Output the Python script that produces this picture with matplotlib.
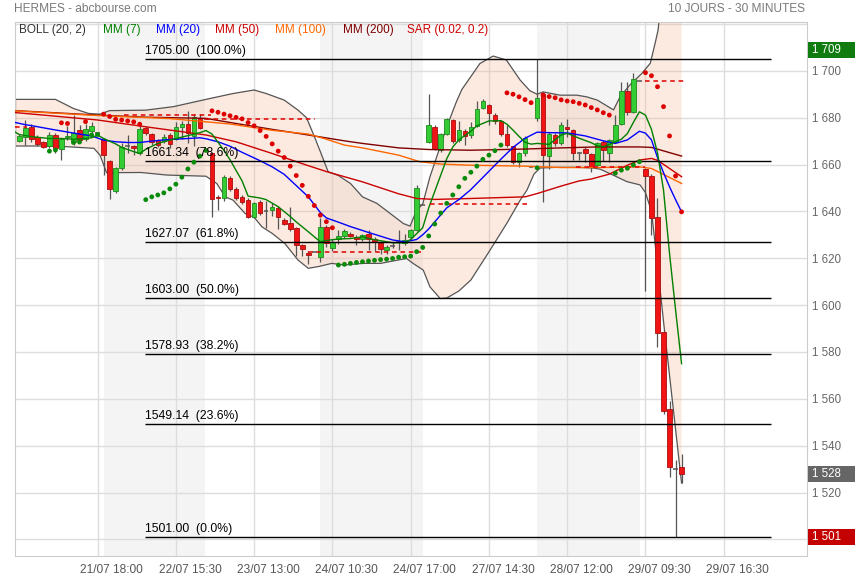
import numpy as np
import matplotlib
matplotlib.use("Agg")
import matplotlib.pyplot as plt
from matplotlib import font_manager as fm
from matplotlib.patches import Rectangle
import matplotlib.transforms as mtrans

# ---------------- data (30-minute candles, index 0 = 21/07 11:30) ----------------
opens = [1670.1, 1671.9, 1676.0, 1671.6, 1669.4, 1668.0, 1672.8, 1666.6, 1671.8, 1669.4,
         1674.7, 1670.7, 1674.4, 1673.3, 1670.7, 1661.5, 1648.7, 1658.3, 1667.9, 1668.0,
         1664.7, 1675.4, 1673.0, 1670.4, 1670.0, 1672.6, 1671.1, 1676.0, 1677.1, 1672.3,
         1680.0, 1679.3, 1664.7, 1646.2, 1645.5, 1654.1, 1649.4, 1646.2, 1644.8, 1637.7,
         1644.1, 1640.3, 1640.6, 1641.3, 1636.3, 1634.9, 1632.7, 1625.6, 1622.4, 1622.8,
         1620.6, 1633.4, 1624.4, 1628.4, 1629.4, 1630.3, 1629.1, 1628.4, 1630.3, 1628.1,
         1626.7, 1623.7, 1625.3, 1627.0, 1626.6, 1628.9, 1632.0, 1642.9, 1669.7, 1676.1,
         1666.4, 1673.2, 1678.9, 1670.4, 1674.4, 1672.5, 1676.4, 1684.3, 1685.3, 1681.3,
         1678.5, 1673.2, 1667.8, 1661.1, 1664.7, 1659.0, 1679.7, 1690.3, 1663.6, 1672.5,
         1669.0, 1676.1, 1674.7, 1664.7, 1666.6, 1664.4, 1659.7, 1669.7, 1664.7, 1669.7,
         1677.5, 1691.3, 1682.2, 1695.6, 1658.1, 1655.2, 1637.5, 1588.4, 1555.5, 1530.0,
         1530.8]
highs = [1673.0, 1679.0, 1677.2, 1672.5, 1670.0, 1674.0, 1673.5, 1671.5, 1676.5, 1681.0,
         1677.0, 1677.5, 1678.0, 1673.3, 1671.5, 1662.0, 1659.0, 1669.0, 1672.5, 1668.5,
         1677.0, 1676.5, 1673.5, 1671.0, 1673.0, 1673.5, 1678.0, 1678.5, 1683.0, 1681.5,
         1681.5, 1679.3, 1665.0, 1647.0, 1655.5, 1655.0, 1650.5, 1647.0, 1645.5, 1644.0,
         1645.0, 1644.5, 1643.5, 1642.5, 1637.0, 1642.0, 1633.5, 1626.0, 1623.0, 1622.8,
         1637.0, 1634.0, 1628.0, 1632.0, 1632.5, 1631.0, 1630.0, 1630.5, 1632.0, 1629.0,
         1627.5, 1625.5, 1627.0, 1632.0, 1630.5, 1632.5, 1651.2, 1642.9, 1690.3, 1677.0,
         1673.5, 1679.8, 1679.5, 1678.5, 1675.0, 1678.0, 1687.0, 1688.0, 1686.0, 1682.0,
         1679.0, 1677.0, 1668.0, 1665.5, 1672.0, 1659.0, 1705.0, 1690.8, 1674.0, 1673.5,
         1678.0, 1679.5, 1675.0, 1665.5, 1667.5, 1665.0, 1669.5, 1670.5, 1671.0, 1681.0,
         1695.3, 1695.3, 1699.1, 1695.6, 1658.5, 1656.0, 1645.6, 1589.4, 1559.0, 1533.9,
         1536.5]
lows = [1669.5, 1668.3, 1669.5, 1668.0, 1667.0, 1667.2, 1665.0, 1661.9, 1670.5, 1668.5,
        1669.0, 1670.0, 1672.0, 1673.3, 1655.5, 1645.2, 1648.0, 1657.5, 1664.8, 1664.0,
        1664.0, 1672.5, 1668.5, 1667.5, 1669.0, 1667.0, 1670.5, 1671.0, 1669.0, 1668.0,
        1675.0, 1679.3, 1637.4, 1640.5, 1644.5, 1648.5, 1645.0, 1643.0, 1637.0, 1637.0,
        1638.5, 1632.7, 1638.0, 1632.5, 1634.0, 1631.5, 1620.9, 1621.0, 1617.5, 1622.8,
        1618.5, 1625.0, 1623.0, 1626.0, 1628.5, 1629.0, 1625.5, 1627.5, 1623.5, 1623.2,
        1621.7, 1621.7, 1624.5, 1623.5, 1625.5, 1628.0, 1631.5, 1642.9, 1669.0, 1666.0,
        1665.5, 1672.5, 1669.0, 1669.5, 1668.3, 1671.5, 1676.0, 1683.5, 1676.8, 1677.5,
        1672.0, 1667.5, 1660.4, 1659.0, 1663.5, 1659.0, 1678.5, 1644.1, 1658.0, 1668.0,
        1668.5, 1671.8, 1662.0, 1662.0, 1661.0, 1657.0, 1659.0, 1661.5, 1661.0, 1669.0,
        1676.8, 1681.0, 1682.0, 1695.6, 1606.0, 1629.9, 1582.0, 1553.5, 1526.8, 1501.0,
        1524.0]
closes = [1672.1, 1675.4, 1671.1, 1668.7, 1667.6, 1672.6, 1666.9, 1670.7, 1672.2, 1673.3,
          1670.4, 1675.0, 1676.4, 1673.3, 1664.0, 1649.5, 1658.6, 1667.3, 1667.9, 1666.9,
          1675.1, 1673.3, 1669.4, 1668.3, 1671.9, 1668.6, 1676.0, 1677.4, 1673.3, 1680.1,
          1675.4, 1679.3, 1645.3, 1645.7, 1654.5, 1649.4, 1645.8, 1644.1, 1637.7, 1643.4,
          1639.4, 1640.3, 1641.7, 1637.7, 1634.6, 1632.3, 1625.6, 1623.8, 1621.4, 1622.8,
          1633.4, 1626.3, 1626.8, 1629.4, 1631.6, 1629.6, 1628.0, 1629.7, 1628.0, 1627.0,
          1623.9, 1624.9, 1625.3, 1627.0, 1627.7, 1632.0, 1650.0, 1642.9, 1676.8, 1666.8,
          1673.2, 1679.4, 1670.1, 1674.9, 1672.1, 1675.8, 1683.9, 1687.0, 1681.8, 1678.5,
          1673.2, 1668.3, 1661.1, 1665.0, 1671.4, 1659.0, 1688.2, 1664.0, 1673.2, 1669.0,
          1676.8, 1675.1, 1664.7, 1664.7, 1664.7, 1659.0, 1669.3, 1666.1, 1670.4, 1676.8,
          1691.3, 1682.2, 1696.4, 1695.6, 1655.2, 1637.3, 1588.0, 1555.0, 1530.8, 1530.0,
          1527.8]

# moving averages (candle index, value)
mm7_x = [-0.8, 0, 2, 5, 7, 9, 10, 12, 13, 14, 16, 17, 19, 20, 21, 23, 25, 27, 30, 31, 32,
         34, 35, 37, 38, 40, 41, 43, 45, 46, 48, 50, 51, 53, 55, 57, 59, 62, 64, 65, 66,
         67, 68, 70, 71, 72, 73, 75, 76, 78, 80, 81, 82, 83, 84, 85, 86, 88, 90, 91, 93,
         95, 96, 97, 98, 100, 101, 102, 103, 104, 105, 106, 107, 108, 109, 110]
mm7_y = [1674.0, 1672.8, 1671.9, 1671.1, 1671.1, 1670.8, 1670.9, 1671.4, 1672.6, 1671.1, 1668.8,
         1667.3, 1665.5, 1664.7, 1666.5, 1669.0, 1670.4, 1671.7, 1673.6, 1674.5, 1673.0,
         1666.0, 1662.0, 1653.0, 1646.5, 1645.7, 1645.0, 1642.0, 1637.8, 1635.5, 1631.3,
         1627.0, 1627.6, 1628.2, 1628.4, 1629.1, 1627.9, 1626.6, 1626.6, 1628.0, 1630.5,
         1633.0, 1641.5, 1655.5, 1662.5, 1667.5, 1670.5, 1674.2, 1676.5, 1678.6, 1678.7,
         1677.2, 1674.7, 1672.0, 1669.5, 1668.7, 1669.0, 1668.6, 1672.6, 1673.3, 1671.2,
         1669.3, 1668.0, 1667.5, 1668.6, 1670.8, 1673.2, 1678.0, 1682.5, 1681.1, 1675.0,
         1665.0, 1649.1, 1622.0, 1598.0, 1575.0]
mm20_x = [-0.8, 1, 2, 5, 7, 10, 12, 14, 16, 18, 20, 22, 25, 28, 30, 31, 33, 35, 37, 40,
          42, 44, 46, 48, 50, 51, 53, 55, 58, 60, 62, 64, 66, 67, 68, 69, 71, 73, 75, 77,
          80, 82, 84, 86, 88, 91, 94, 96, 97, 99, 101, 103, 104, 105, 106, 107, 108, 109, 110]
mm20_y = [1678.0, 1677.0, 1676.6, 1675.2, 1674.3, 1673.0, 1672.2, 1670.4, 1669.7, 1669.4,
          1669.4, 1670.0, 1670.7, 1671.1, 1671.4, 1671.0, 1669.7, 1667.8, 1665.2, 1661.6,
          1659.0, 1655.8, 1651.0, 1646.2, 1639.5, 1637.2, 1635.4, 1633.5, 1631.0, 1629.4,
          1627.8, 1627.0, 1628.0, 1630.0, 1632.5, 1635.5, 1641.5, 1645.0, 1649.3, 1654.5,
          1662.3, 1667.3, 1671.2, 1673.8, 1673.6, 1673.5, 1672.2, 1670.8, 1670.1, 1669.0,
          1670.5, 1674.2, 1673.4, 1670.5, 1663.0, 1656.5, 1650.5, 1645.0, 1639.8]
mm50_x = [-0.8, 13, 21, 25, 31, 36, 42, 48, 51, 54, 57, 63, 66, 69, 75, 84, 86, 90, 93, 95,
          98, 101, 103, 105, 106, 108, 110]
mm50_y = [1682.2, 1679.0, 1676.1, 1674.7, 1672.6, 1669.7, 1664.7, 1659.5, 1657.0, 1654.8,
          1652.6, 1647.5, 1645.5, 1645.1, 1645.5, 1646.2, 1647.6, 1650.8, 1653.0, 1653.8,
          1655.9, 1659.7, 1661.9, 1662.6, 1661.8, 1658.3, 1654.8]
mm100_x = [-0.8, 13, 25, 35, 42, 48, 51, 54, 57, 63, 66.5, 70, 75, 84, 90, 96, 103, 105, 110]
mm100_y = [1682.9, 1680.9, 1679.6, 1677.3, 1674.6, 1673.0, 1670.8, 1668.3, 1667.1, 1664.0,
           1661.2, 1660.2, 1659.7, 1659.3, 1658.7, 1658.7, 1659.0, 1658.3, 1651.9]
mm200_x = [-0.8, 13, 21, 31, 36, 42, 48, 51.6, 54, 57, 63, 68, 75, 84, 90, 96, 103, 105, 110]
mm200_y = [1683.0, 1681.1, 1680.2, 1679.7, 1677.5, 1675.0, 1672.6, 1671.1, 1670.1, 1669.0,
           1667.1, 1666.4, 1666.1, 1666.6, 1667.1, 1667.5, 1667.5, 1667.3, 1663.6]

# Bollinger (20, 2)
bb_up_x = [-0.8, 6, 9, 11.5, 13.4, 15, 21, 25.6, 31, 35.5, 39, 41, 44, 46.3, 47.7, 49, 50,
           51.3, 53, 55, 57, 59.4, 61.6, 63.8, 64.9, 66, 67, 68.2, 69.9, 71, 72.6, 73.5,
           76.5, 78.7, 80.9, 83.2, 84.8, 86, 87, 89.8, 92.6, 94.2, 96, 98.7, 99.8, 101.4,
           103.4, 104.8, 105.6, 106.1, 107, 108, 109, 110]
bb_up = [1687.8, 1687.8, 1683.9, 1681.8, 1681.5, 1683.0, 1683.2, 1684.7, 1687.8, 1690.3,
         1691.8, 1690.3, 1687.5, 1683.2, 1680.0, 1672.0, 1665.5, 1656.9, 1655.3, 1651.9,
         1646.2, 1643.4, 1639.1, 1634.8, 1633.7, 1640.5, 1643.1, 1654.7, 1667.6, 1676.1,
         1686.8, 1692.0, 1703.1, 1706.3, 1704.6, 1696.0, 1691.5, 1690.0, 1691.0, 1689.6,
         1689.6, 1688.9, 1687.5, 1683.3, 1689.0, 1693.9, 1698.9, 1703.2, 1711.7, 1717.4,
         1740.0, 1760.0, 1775.0, 1790.0]
bb_lo_x = [-0.8, 6, 12.4, 13.4, 14.5, 20.2, 24.5, 31, 32.8, 34.2, 35.5, 37.5, 39, 40.3, 42,
           44.1, 46.3, 48, 49.6, 51.9, 54, 57.1, 60, 64.3, 65.4, 67.1, 68.2, 69.9, 71, 73,
           75, 78.2, 81, 83.2, 84.3, 85.5, 86.5, 89.3, 92.6, 95.3, 96.5, 99.2, 100.9, 103.1,
           104, 105, 106, 107, 108, 109, 110]
bb_lo = [1667.9, 1667.9, 1666.9, 1664.0, 1656.5, 1656.6, 1655.5, 1655.0, 1651.9, 1646.2,
         1644.8, 1639.1, 1637.5, 1633.4, 1630.6, 1626.3, 1619.2, 1615.7, 1616.4, 1617.8,
         1617.1, 1617.8, 1617.8, 1619.9, 1617.8, 1614.9, 1607.8, 1602.8, 1603.0, 1606.0,
         1610.7, 1623.5, 1635.0, 1644.8, 1649.0, 1656.0, 1658.5, 1658.8, 1658.8, 1658.5,
         1658.0, 1654.8, 1652.7, 1651.3, 1648.0, 1640.0, 1617.0, 1593.0, 1570.0, 1547.0,
         1524.0]

# Parabolic SAR (0.02, 0.2), candles 5..110
sar_x = list(range(5, 111))
sar_y = [1665.7, 1666.2, 1677.8, 1677.5, 1669.4, 1669.6, 1678.3, 1672.6, 1672.8, 1681.5,
         1680.5, 1679.3, 1679.0, 1678.6, 1678.2, 1677.2, 1645.0, 1646.2, 1647.0, 1647.9,
         1649.6, 1651.6, 1654.6, 1658.1, 1661.0, 1663.6, 1666.0, 1682.9, 1682.3, 1681.5,
         1680.8, 1680.1, 1679.5, 1677.9, 1676.5, 1674.5, 1672.0, 1668.8, 1665.7, 1663.0,
         1659.3, 1655.3, 1651.1, 1646.4, 1642.5, 1638.4, 1635.6, 1633.0, 1617.1, 1617.4,
         1617.8, 1618.2, 1618.5, 1618.8, 1619.1, 1619.4, 1619.6, 1619.9, 1620.4, 1620.6,
         1620.9, 1622.8, 1624.6, 1629.5, 1634.6, 1639.3, 1643.4, 1647.0, 1650.5, 1654.1,
         1656.7, 1659.3, 1662.2, 1664.0, 1665.9, 1668.3, 1690.6, 1690.0, 1688.9, 1687.7,
         1686.4, 1658.6, 1689.7, 1689.0, 1688.5, 1687.6, 1687.1, 1686.8, 1686.1, 1685.4,
         1684.3, 1683.3, 1682.1, 1681.1, 1656.3, 1657.6, 1658.4, 1659.8, 1661.2, 1699.2,
         1697.9, 1693.2, 1684.7, 1672.2, 1655.1, 1639.8]

# previous-close dashed lines: level, start index, end index
prev_close_level = [1675.8, 1681.1, 1679.3, 1622.5, 1643.0, 1658.8, 1695.6]
prev_close_start = [-0.8, 17.4, 30.8, 48.0, 68.2, 92.5, 104.0]
prev_close_end = [1.3, 31.8, 49.1, 66.8, 84.8, 103.9, 110.5]

# Fibonacci retracement
fib_levels = [1705.00, 1661.34, 1627.07, 1603.00, 1578.93, 1549.14, 1501.00]
fib_pct = ['100.0%', '78.6%', '61.8%', '50.0%', '38.2%', '23.6%', '0.0%']
fib_start, fib_end = 20.9, 124.8

# shaded trading days (index ranges)
shade_start = [14, 50, 86]
shade_end = [30.85, 67.0, 103.05]

xtick_idx = [13, 26, 39, 52, 65, 78, 91, 104, 117]
xtick_labels = ['21/07 18:00', '22/07 15:30', '23/07 13:00', '24/07 10:30', '24/07 17:00',
                '27/07 14:30', '28/07 12:00', '29/07 09:30', '29/07 16:30']
yticks = list(range(1520, 1701, 20))
ygrid = list(range(1500, 1721, 20))

tag_values = [1709, 1528, 1501]
tag_colors = ['#107c10', '#666666', '#c40000']

legend_items = ['BOLL (20, 2)', 'MM (7)', 'MM (20)', 'MM (50)', 'MM (100)', 'MM (200)', 'SAR (0.02, 0.2)']
legend_colors = ['#333333', '#008000', '#0000ff', '#cc0000', '#ff6600', '#800000', '#cc0000']
legend_px = [19, 102.7, 155.7, 215, 275, 342.7, 407]

# ---------------- fonts ----------------
names = {f.name for f in fm.fontManager.ttflist}
BASE = 'Liberation Sans' if 'Liberation Sans' in names else 'DejaVu Sans'
HAS_NARROW = 'Liberation Sans Narrow' in names
NARROW = 'Liberation Sans Narrow' if HAS_NARROW else BASE
plt.rcParams['font.family'] = [BASE, 'DejaVu Sans']

# ---------------- figure ----------------
W, H = 855, 580
fig = plt.figure(figsize=(W / 100, H / 100), dpi=100)
L, R, T, B = 14.5, 806.5, 22.3, 556.0
ax = fig.add_axes([L / W, 1 - B / H, (R - L) / W, (B - T) / H])
ax.set_xlim(-0.8, 130.75)
ax.set_ylim(1492.9, 1720.7)

idx = np.arange(len(closes))
o = np.array(opens); c = np.array(closes); hi = np.array(highs); lo = np.array(lows)

for a, b in zip(shade_start, shade_end):
    ax.axvspan(a, b, color='#f4f4f4', zorder=0.1, lw=0)
for t in xtick_idx:
    ax.axvline(t, color='#dddddd', lw=1, zorder=0.3)
for y in ygrid:
    ax.axhline(y, color='#dddddd', lw=1, zorder=0.3)

# Bollinger band
px = np.concatenate([bb_up_x, bb_lo_x[::-1]])
py = np.concatenate([bb_up, bb_lo[::-1]])
ax.fill(px, py, facecolor='#f5b08a', alpha=0.27, lw=0, zorder=0.6)
ax.plot(bb_up_x, bb_up, color='#555555', lw=0.9, zorder=1)
ax.plot(bb_lo_x, bb_lo, color='#555555', lw=0.9, zorder=1)
ax.plot([bb_up_x[0], bb_lo_x[0]], [bb_up[0], bb_lo[0]], color='#555555', lw=0.9, zorder=1)

# candles
ax.vlines(idx, lo, hi, color='#555555', lw=0.9, zorder=2)
up = c > o
dn = c < o
dj = c == o
bw = 0.76
ax.bar(idx[up], (c - o)[up], bottom=o[up], width=bw, color='#33cc33',
       edgecolor='#1e8a1e', lw=0.6, zorder=2.5)
ax.bar(idx[dn], (o - c)[dn], bottom=c[dn], width=bw, color='#f01414',
       edgecolor='#a80e0e', lw=0.6, zorder=2.5)
ax.hlines(c[dj], idx[dj] - bw / 2, idx[dj] + bw / 2, color='#555555', lw=1.1, zorder=2.5)

# moving averages
ax.plot(mm200_x, mm200_y, color='#800000', lw=1.0, zorder=3)
ax.plot(mm100_x, mm100_y, color='#ff6600', lw=1.0, zorder=3)
ax.plot(mm50_x, mm50_y, color='#cc0000', lw=1.0, zorder=3)
ax.plot(mm20_x, mm20_y, color='#0000ff', lw=1.0, zorder=3)
ax.plot(mm7_x, mm7_y, color='#008000', lw=1.0, zorder=3)

# previous close dashed lines
for lv, a, b in zip(prev_close_level, prev_close_start, prev_close_end):
    ax.hlines(lv, a, b, colors='#e00000', lw=1.1, linestyles=(0, (3, 2.5)), zorder=3.6)

# Fibonacci lines
ax.hlines(fib_levels, fib_start, fib_end, color='black', lw=1.0, zorder=3.5)
for lv, pct in zip(fib_levels, fib_pct):
    ax.annotate(f'{lv:.2f}  ({pct})', (fib_start, lv), xytext=(0, 3.6),
                textcoords='offset points', fontsize=8.8, va='baseline', ha='left',
                color='black', zorder=5)

# SAR
sx = np.array(sar_x); sy = np.array(sar_y)
scol = np.where(sy < c[sx], '#0a8a0a', '#dd0000')
ax.scatter(sx, sy, s=12, c=scol, lw=0, zorder=4)

# axes styling
for sp in ax.spines.values():
    sp.set_color('#cccccc')
ax.yaxis.tick_right()
ax.set_yticks(yticks)
ax.set_yticklabels([f'{v:,}'.replace(',', ' ') for v in yticks])
ax.tick_params(axis='y', length=0, pad=4, labelsize=8.3, labelcolor='#666666')
ax.set_xticks(np.array(xtick_idx) + 2.33)
ax.set_xticklabels(xtick_labels)
ax.tick_params(axis='x', length=0, pad=6, labelsize=(10.3 if HAS_NARROW else 8.6),
               labelcolor='#555555')
for lab in ax.get_xticklabels():
    lab.set_fontfamily(NARROW)

# price tags on the right
trans = mtrans.blended_transform_factory(ax.transAxes, ax.transData)
bh = 16 / ((B - T) / (1720.7 - 1492.9))
for v, col in zip(tag_values, tag_colors):
    ax.add_patch(Rectangle((1.0019, v - bh / 2), 0.0593, bh, transform=trans,
                           facecolor=col, edgecolor='none', clip_on=False, zorder=6))
    ax.text(1.0069, v, f'{v:,}'.replace(',', ' '), transform=trans, color='white',
            fontsize=8.3, va='center', ha='left', clip_on=False, zorder=7)

# header texts
fig.text(14 / W, 1 - 8.5 / H, 'HERMES - abcbourse.com', color='#7a7a7a', fontsize=8.6,
         va='center', ha='left')
fig.text(805 / W, 1 - 8.5 / H, '10 JOURS - 30 MINUTES', color='#7a7a7a', fontsize=8.6,
         va='center', ha='right')
for txt, col, xp in zip(legend_items, legend_colors, legend_px):
    fig.text(xp / W, 1 - 30 / H, txt, color=col, fontsize=8.5, va='center', ha='left')

fig.savefig('out.png', dpi=100)
